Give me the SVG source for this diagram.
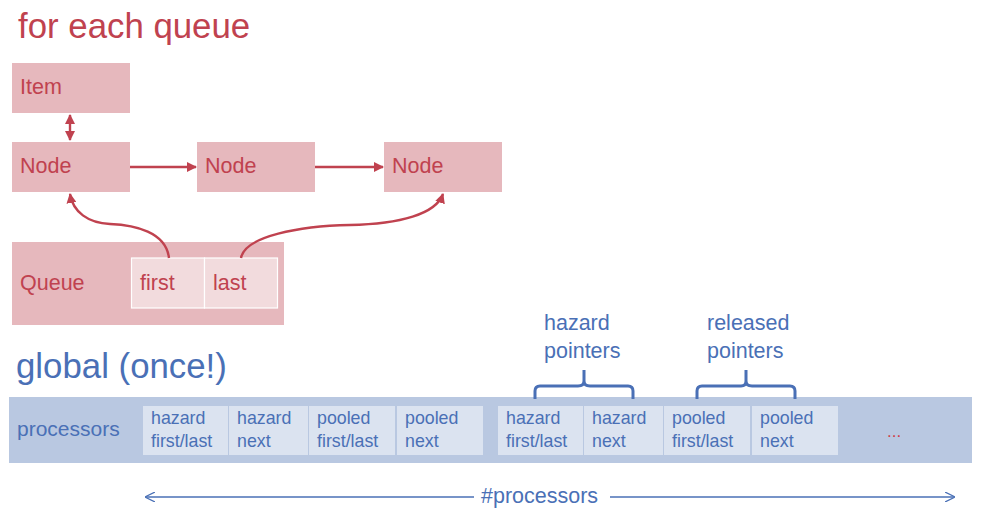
<svg xmlns="http://www.w3.org/2000/svg" width="983" height="513" viewBox="0 0 983 513">
<style>
text{font-family:"Liberation Sans",Arial,sans-serif}
.r{fill:#c0424f}
.b{fill:#4a70b6}
.box{fill:#e6b8bd}
.cellr{fill:#f2dbdd;stroke:#ffffff;stroke-width:1.2}
.bar{fill:#b9c8e1}
.cellb{fill:#dbe3f0}
.rl{fill:none;stroke:#c0424f;stroke-width:2.4}
.bl{fill:none;stroke:#4a70b6;stroke-width:1.3}
.br{fill:none;stroke:#4a70b6;stroke-width:3;stroke-linejoin:round}
.lbl{font-size:21.5px}
.c{font-size:17.8px}
</style>
<defs>
<marker id="ar" viewBox="0 0 10 10" refX="9" refY="5" markerWidth="4.2" markerHeight="4.2" orient="auto-start-reverse" markerUnits="strokeWidth">
<path d="M0,0 L10,5 L0,10 Z" fill="#c0424f"/>
</marker>
<marker id="ab" viewBox="0 0 10 10" refX="9" refY="5" markerWidth="8" markerHeight="8" orient="auto-start-reverse" markerUnits="strokeWidth">
<path d="M0,0 L10,5 L0,10" fill="none" stroke="#4a70b6" stroke-width="1.2"/>
</marker>
</defs>

<text class="r" x="18" y="38" font-size="34.8">for each queue</text>

<g id="item"><rect class="box" x="12" y="63" width="118" height="50"/><text class="r lbl" x="20" y="94">Item</text></g>
<g id="node1"><rect class="box" x="12" y="142" width="118" height="50"/><text class="r lbl" x="20" y="173">Node</text></g>
<g id="node2"><rect class="box" x="197" y="142" width="118" height="50"/><text class="r lbl" x="205" y="173">Node</text></g>
<g id="node3"><rect class="box" x="384" y="142" width="118" height="50"/><text class="r lbl" x="392" y="173">Node</text></g>
<g id="queue">
<rect class="box" x="12" y="242" width="272" height="83"/>
<text class="r lbl" x="20" y="290">Queue</text>
<rect class="cellr" x="131.5" y="258" width="73" height="50"/>
<text class="r lbl" x="140" y="290">first</text>
<rect class="cellr" x="204.5" y="258" width="73" height="50"/>
<text class="r lbl" x="213" y="290">last</text>
</g>

<text class="b" x="16" y="378" font-size="34.8">global (once!)</text>

<g id="processors">
<rect class="bar" x="9" y="397" width="963" height="66"/>
<text class="b" x="17" y="436" font-size="21">processors</text>
<rect class="cellb" x="143" y="406" width="85" height="49"/>
<text class="b c" x="151" y="424">hazard</text><text class="b c" x="151" y="447">first/last</text>
<rect class="cellb" x="229" y="406" width="79" height="49"/>
<text class="b c" x="237" y="424">hazard</text><text class="b c" x="237" y="447">next</text>
<rect class="cellb" x="309" y="406" width="86" height="49"/>
<text class="b c" x="317" y="424">pooled</text><text class="b c" x="317" y="447">first/last</text>
<rect class="cellb" x="397" y="406" width="86" height="49"/>
<text class="b c" x="405" y="424">pooled</text><text class="b c" x="405" y="447">next</text>
<rect class="cellb" x="498" y="406" width="85" height="49"/>
<text class="b c" x="506" y="424">hazard</text><text class="b c" x="506" y="447">first/last</text>
<rect class="cellb" x="584" y="406" width="79" height="49"/>
<text class="b c" x="592" y="424">hazard</text><text class="b c" x="592" y="447">next</text>
<rect class="cellb" x="664" y="406" width="86" height="49"/>
<text class="b c" x="672" y="424">pooled</text><text class="b c" x="672" y="447">first/last</text>
<rect class="cellb" x="752" y="406" width="86" height="49"/>
<text class="b c" x="760" y="424">pooled</text><text class="b c" x="760" y="447">next</text>
<text x="887" y="437" font-size="17" fill="#d0404a">...</text>
</g>

<g id="hazard-label">
<text class="b lbl" x="544" y="330">hazard</text>
<text class="b lbl" x="544" y="358">pointers</text>
<path class="br" d="M535,399 V391 Q535,386 540,386 H578 Q584,386 584,381 V370 M584,381 Q584,386 590,386 H628 Q633,386 633,391 V399"/>
</g>
<g id="released-label">
<text class="b lbl" x="707" y="330">released</text>
<text class="b lbl" x="707" y="358">pointers</text>
<path class="br" d="M697,399 V391 Q697,386 702,386 H741 Q746,386 746,381 V370 M746,381 Q746,386 752,386 H790 Q795,386 795,391 V399"/>
</g>

<g id="connectors">
<line class="rl" x1="70" y1="115" x2="70" y2="140" marker-start="url(#ar)" marker-end="url(#ar)"/>
<line class="rl" x1="130" y1="167" x2="196" y2="167" marker-end="url(#ar)"/>
<line class="rl" x1="315" y1="167" x2="383" y2="167" marker-end="url(#ar)"/>
<path class="rl" d="M169,258 C166,232 135,225 110,224 C88,223 73,212 70,194" marker-end="url(#ar)"/>
<path class="rl" d="M241,258 C245,236 300,226 350,225 C400,224 436,214 443,194" marker-end="url(#ar)"/>
<line class="bl" x1="474" y1="497" x2="146" y2="497" marker-end="url(#ab)"/>
<line class="bl" x1="610" y1="497" x2="954" y2="497" marker-end="url(#ab)"/>
</g>
<text class="b" x="481" y="503" font-size="21.5">#processors</text>
</svg>
